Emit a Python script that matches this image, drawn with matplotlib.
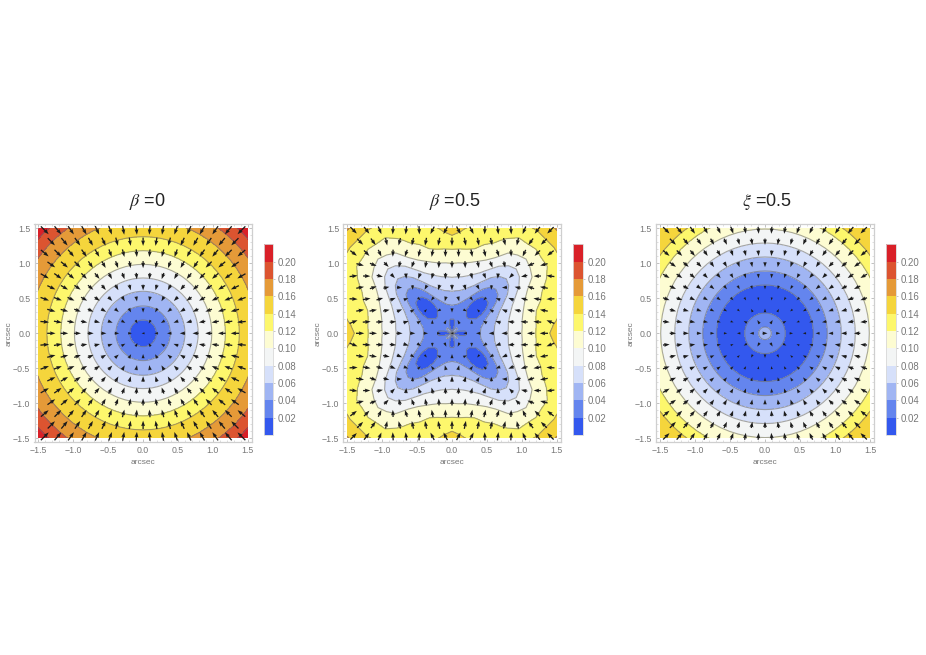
import numpy as np
import matplotlib
matplotlib.use('Agg')
from matplotlib import pyplot as plt
from matplotlib.colors import ListedColormap, BoundaryNorm
from matplotlib.cm import ScalarMappable
from matplotlib.patches import Rectangle

plt.rcParams['font.family'] = ['Liberation Sans', 'DejaVu Sans']
plt.rcParams['mathtext.fontset'] = 'stix'

W, H = 926, 655

titles = [r'$\beta$ =0', r'$\beta$ =0.5', r'$\xi$ =0.5']
levels = [0, .02, .04, .06, .08, .10, .12, .14, .16, .18, .20, .22]
bar_ticks = [.02, .04, .06, .08, .10, .12, .14, .16, .18, .20]
colors = ['#3358ee', '#6485ee', '#a0b5f3', '#d6e0fa', '#f3f5f5', '#fdfcd2',
          '#fdf76c', '#f5d53c', '#e59a38', '#dc5430', '#d92028']

# panel 1 and 3 are round, so radius -> value read at the contour crossings
radii_a = [0, .19, .39, .60, .79, .985, 1.18, 1.38, 1.63, 1.85, 2.02, 2.15]
values_a = [0, .02, .04, .06, .08, .10, .12, .14, .16, .18, .20, .213]
radii_c = [0, .09, .29, .49, .69, .89, 1.09, 1.29, 1.49, 1.70, 1.87, 2.15]
values_c = [.049, .04, .02, 0, .02, .04, .06, .08, .10, .12, .14, .156]

# panel 2: one row per angle 0,5,..,45 degrees, the rest is mirrored
radii_b = [0, .05, .1, .2, .3, .4, .5, .6, .7, .8, 1.0, 1.25, 1.5, 1.75, 2.15]
values_b = [
    [0, .005, .010, .020, .030, .040, .050, .060, .070, .080, .100, .125, .150, .175, .215],
    [.009, .007, .011, .0195, .029, .039, .049, .059, .069, .079, .099, .124, .143, .168, .208],
    [.018, .014, .012, .021, .026, .038, .048, .058, .068, .078, .098, .123, .134, .158, .198],
    [.026, .023, .019, .024, .028, .035, .045, .055, .065, .075, .095, .120, .129, .150, .190],
    [.034, .030, .026, .027, .029, .031, .0405, .0505, .0605, .0705, .0905, .1155, .127, .145, .185],
    [.040, .035, .032, .028, .027, .027, .0345, .0445, .0545, .0645, .0845, .1095, .1245, .140, .180],
    [.044, .040, .036, .029, .024, .021, .024, .035, .045, .055, .075, .100, .116, .132, .172],
    [.047, .043, .038, .030, .026, .017, .015, .021, .033, .043, .063, .088, .108, .126, .166],
    [.049, .044, .040, .030, .022, .013, .010, .013, .022, .034, .054, .079, .104, .127, .160],
    [.050, .045, .040, .030, .021, .012, .000, .012, .021, .032, .050, .075, .100, .125, .165],
]

# where each panel sits, in pixels: data square, frame and colour bar
squares = [(38.5, 247.7), (347.3, 556.7), (660, 870)]
bars = [(263.7, 273.3), (573.3, 583.3), (886, 896.3)]
title_x = [147, 455, 767]

angles = np.radians(np.arange(0, 361, 5))


def full_circle(rows):
    rows = np.array(rows)
    quarter = np.vstack([rows, rows[-2::-1]])
    return np.vstack([quarter[:-1]] * 4 + [quarter[:1]])


def arrow_field(radii, field):
    # downhill direction of the table, arrows take their length from the value
    step = angles[1] - angles[0]
    wrapped = np.vstack([field[-2:-1], field, field[1:2]])
    wrapped_angles = np.concatenate([[-step], angles, [angles[-1] + step]])
    f_t = np.gradient(wrapped, wrapped_angles, axis=0)[1:-1]
    f_r = np.gradient(field, radii, axis=1)
    f_t = f_t / np.maximum(radii, .05)
    c = np.cos(angles)[:, None]
    s = np.sin(angles)[:, None]
    gx = f_r * c - f_t * s
    gy = f_r * s + f_t * c

    xs, ys, us, vs = [], [], [], []
    for k in range(-9, 10):
        y = k * .1635
        if k % 2 == 0:
            cols = np.arange(-7, 8)
        else:
            cols = np.arange(-8, 8) + .5
        for x in cols * .188:
            r = np.hypot(x, y)
            i = int(round((np.arctan2(y, x) % (2 * np.pi)) / step))
            a = np.interp(r, radii, gx[i])
            b = np.interp(r, radii, gy[i])
            size = np.hypot(a, b)
            if size == 0:
                a, b, size = 1, 0, 1
            length = (3 + 40 * np.interp(r, radii, field[i])) / 69.8
            xs.append(x)
            ys.append(y)
            us.append(-a / size * length)
            vs.append(-b / size * length)
    return xs, ys, us, vs


panels = [
    (np.array(radii_a), np.tile(values_a, (len(angles), 1))),
    (np.array(radii_b), full_circle(values_b)),
    (np.array(radii_c), np.tile(values_c, (len(angles), 1))),
]

cmap = ListedColormap(colors)
norm = BoundaryNorm(levels, cmap.N)

fig = plt.figure(figsize=(W / 100, H / 100), dpi=100)
pad = 4 / 69.8

for n in range(3):
    radii, field = panels[n]
    x0, x1 = squares[n]
    top, bottom = 228.3, 438.3
    size = x1 - x0
    ax = fig.add_axes([(x0 - 4) / W, 1 - (bottom + 4) / H, (size + 8) / W, (bottom - top + 8) / H])
    ax.set_xlim(-1.5 - pad, 1.5 + pad)
    ax.set_ylim(-1.5 - pad, 1.5 + pad)

    X = np.outer(np.cos(angles), radii)
    Y = np.outer(np.sin(angles), radii)
    box = Rectangle((-1.5, -1.5), 3, 3, transform=ax.transData)
    cs = ax.contourf(X, Y, field, levels=levels, cmap=cmap, norm=norm)
    cs.set_clip_path(box)
    lines = ax.contour(X, Y, field, levels=levels[1:-1], colors='#6f6f6f', linewidths=.8, alpha=.6)
    lines.set_clip_path(box)

    xs, ys, us, vs = arrow_field(radii, field)
    ax.quiver(xs, ys, us, vs, angles='xy', scale_units='xy', scale=1, pivot='mid',
              color='#1c1c1c', width=.006, headwidth=3.0, headlength=4.2,
              headaxislength=3.8, minlength=.5, clip_on=False, zorder=4)

    for side in ax.spines.values():
        side.set_color('#cfcfcf')
        side.set_linewidth(.9)
    ticks = [-1.5, -1.0, -.5, 0, .5, 1.0, 1.5]
    ax.set_xticks(ticks)
    ax.set_yticks(ticks)
    ax.set_xticks(np.arange(-15, 16) / 10, minor=True)
    ax.set_yticks(np.arange(-15, 16) / 10, minor=True)
    ax.tick_params(which='major', direction='in', length=2.2, width=.5, color='#a8a8a8',
                   labelcolor='#777777', labelsize=6.3, pad=3, top=True, right=True)
    ax.tick_params(which='minor', direction='in', length=1.1, width=.4, color='#c4c4c4',
                   top=True, right=True)
    labels = ['\u22121.5', '\u22121.0', '\u22120.5', '0.0', '0.5', '1.0', '1.5']
    ax.set_xticklabels(labels)
    ax.set_yticklabels(labels)
    ax.set_xlabel('arcsec', fontsize=6, color='#777777', labelpad=2.5)
    ax.set_ylabel('arcsec', fontsize=6, color='#777777', labelpad=0)

    fig.text(title_x[n] / W, 1 - 201 / H, titles[n], fontsize=13, color='#222222',
             ha='center', va='center')

    bx0, bx1 = bars[n]
    cax = fig.add_axes([bx0 / W, 1 - 435 / H, (bx1 - bx0) / W, 190.6 / H])
    bar = fig.colorbar(ScalarMappable(norm=norm, cmap=cmap), cax=cax, ticks=bar_ticks,
                       spacing='proportional')
    bar.minorticks_off()
    bar.ax.set_yticklabels(['%.2f' % t for t in bar_ticks])
    bar.ax.tick_params(length=1.5, width=.4, color='#999999', labelcolor='#777777',
                       labelsize=6.9, pad=1.5)
    bar.outline.set_edgecolor('#d8d8d8')
    bar.outline.set_linewidth(.6)

fig.savefig('out.png', dpi=100)
